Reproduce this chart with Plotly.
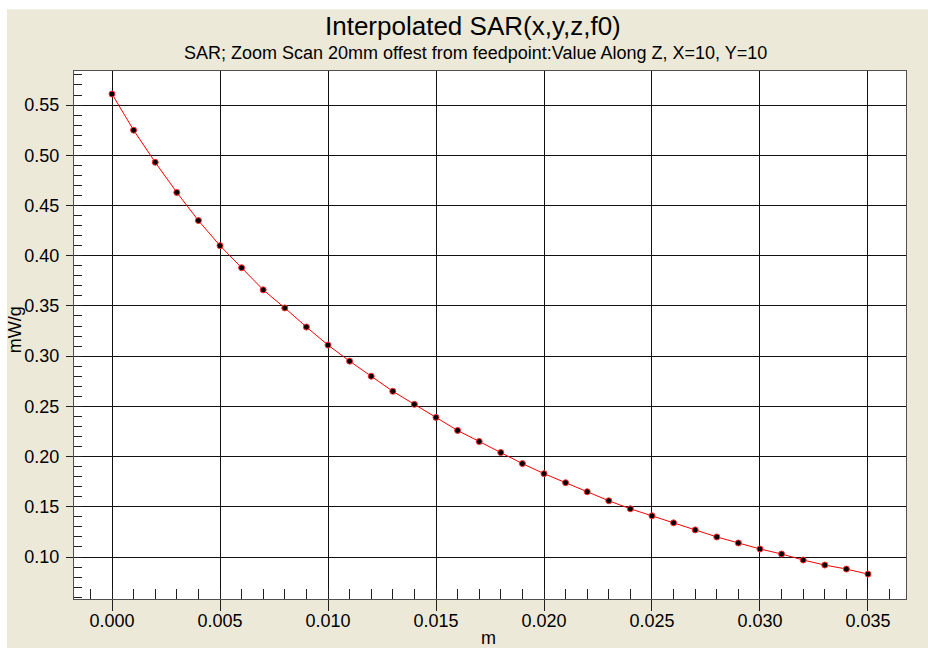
import plotly.graph_objects as go

# Data
z_m = [0.000, 0.001, 0.002, 0.003, 0.004, 0.005, 0.006, 0.007, 0.008, 0.009,
       0.010, 0.011, 0.012, 0.013, 0.014, 0.015, 0.016, 0.017, 0.018, 0.019,
       0.020, 0.021, 0.022, 0.023, 0.024, 0.025, 0.026, 0.027, 0.028, 0.029,
       0.030, 0.031, 0.032, 0.033, 0.034, 0.035]
sar = [0.561, 0.525, 0.493, 0.463, 0.435, 0.410, 0.388, 0.366, 0.348, 0.329,
       0.311, 0.295, 0.280, 0.265, 0.252, 0.239, 0.226, 0.215, 0.204, 0.193,
       0.183, 0.174, 0.165, 0.156, 0.148, 0.141, 0.134, 0.127, 0.120, 0.114,
       0.108, 0.103, 0.097, 0.092, 0.088, 0.083]

title_text = "Interpolated SAR(x,y,z,f0)"
subtitle_text = "SAR; Zoom Scan 20mm offest from feedpoint:Value Along Z, X=10, Y=10"
x_title = "m"
y_title = "mW/g"

FONT = "Liberation Sans, Arial, sans-serif"
BEIGE = "#ECE9D8"

fig = go.Figure()
fig.add_trace(go.Scatter(
    x=z_m, y=sar, mode="lines+markers",
    line=dict(color="#FF0000", width=1),
    marker=dict(color="black", size=6, line=dict(color="#FF3030", width=1)),
    showlegend=False, hoverinfo="x+y",
))

axis_common = dict(
    showgrid=True, gridcolor="#101010", gridwidth=1,
    showline=True, linecolor="#505050", linewidth=1, mirror=True,
    ticks="outside", tickcolor="#202020", tickwidth=1,
    tickfont=dict(family=FONT, size=18, color="black"),
    zeroline=False,
)

fig.update_xaxes(
    range=[-0.00176, 0.03676], tickmode="linear", tick0=0, dtick=0.005,
    tickformat=".3f", ticklen=11, ticklabelstandoff=-6,
    minor=dict(ticks="inside", ticklen=10, dtick=0.001, tick0=0,
               tickcolor="#202020", showgrid=False),
    **axis_common,
)
fig.update_yaxes(
    range=[0.0582, 0.5839], tickmode="linear", tick0=0, dtick=0.05,
    tickformat=".2f", ticklen=7, ticklabelstandoff=3,
    minor=dict(ticks="inside", ticklen=8, dtick=0.01, tick0=0,
               tickcolor="#202020", showgrid=False),
    **axis_common,
)

# white strips around the beige panel (top and left)
fig.add_shape(type="rect", xref="paper", yref="paper",
              x0=-0.2, x1=1.2, y0=1.117, y1=1.2,
              fillcolor="white", line=dict(width=0), layer="below")
fig.add_shape(type="rect", xref="paper", yref="paper",
              x0=-0.2, x1=-0.0805, y0=-0.2, y1=1.2,
              fillcolor="white", line=dict(width=0), layer="below")

fig.add_annotation(text=title_text, xref="paper", yref="paper",
                   x=0.4796, y=1.0852, xanchor="center", yanchor="middle",
                   showarrow=False, font=dict(family=FONT, size=26, color="black"))
fig.add_annotation(text=subtitle_text, xref="paper", yref="paper",
                   x=0.4826, y=1.035, xanchor="center", yanchor="middle",
                   showarrow=False, font=dict(family=FONT, size=18, color="black"))
fig.add_annotation(text=x_title, xref="paper", yref="paper",
                   x=0.4976, y=-0.074, xanchor="center", yanchor="middle",
                   showarrow=False, font=dict(family=FONT, size=18, color="black"))
fig.add_annotation(text=y_title, xref="paper", yref="paper", textangle=-90,
                   x=-0.0709, y=0.509, xanchor="center", yanchor="middle",
                   showarrow=False, font=dict(family=FONT, size=18, color="black"))

fig.update_layout(
    width=928, height=648,
    margin=dict(l=74, r=22, t=71, b=49, pad=0),
    paper_bgcolor=BEIGE, plot_bgcolor="white",
    font=dict(family=FONT, color="black"),
)

fig.write_html("out.html")
